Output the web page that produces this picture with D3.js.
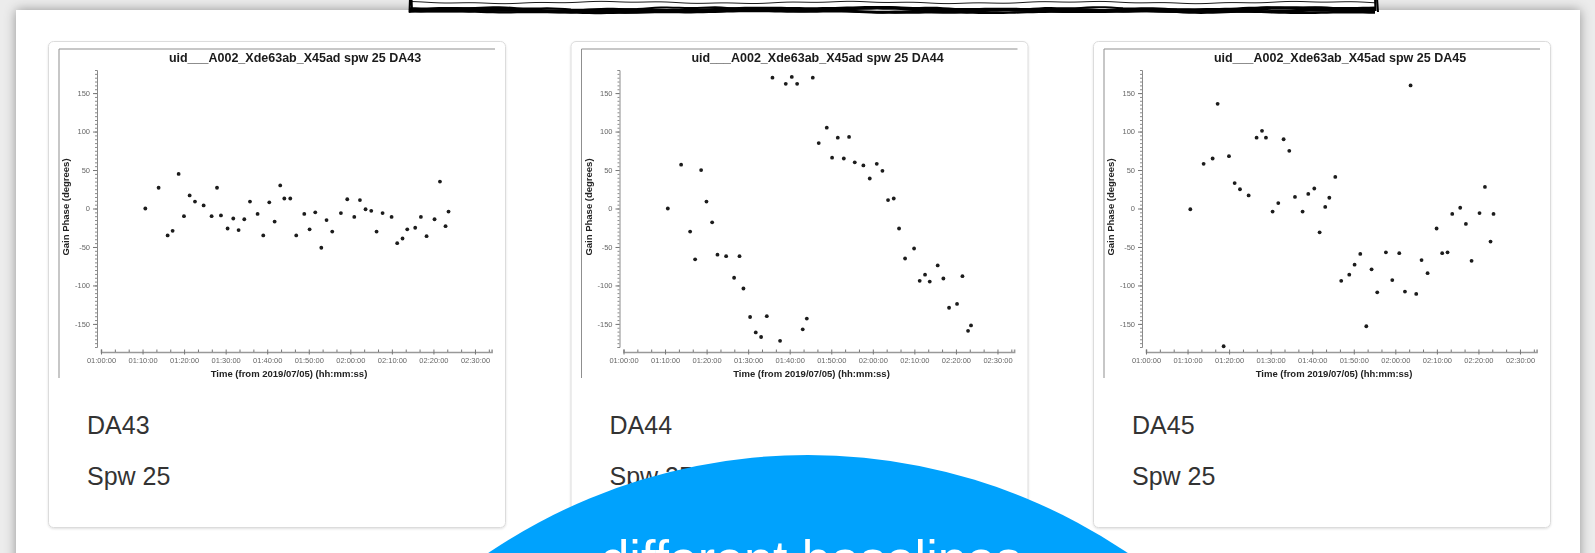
<!DOCTYPE html>
<html>
<head>
<meta charset="utf-8">
<script src="https://cdn.jsdelivr.net/npm/d3@7"></script>
<style>
  html, body { margin: 0; padding: 0; background: #ececec; overflow: hidden; }
  svg { display: block; }
</style>
</head>
<body>
<svg id="page" width="1595" height="553"></svg>
<script>
// ---- data -------------------------------------------------------------
const uid = "uid___A002_Xde63ab_X45ad";
const spw = 25;
const antennas = ["DA43", "DA44", "DA45"];

// solution times (hh:mm:ss, 2019/07/05)
const scanTimes = [
  "01:10:40","01:13:52","01:16:02","01:17:14","01:18:41","01:19:58","01:21:20","01:22:37","01:24:42","01:26:37",
  "01:27:55","01:28:52","01:30:28","01:31:50","01:33:07","01:34:29","01:35:51","01:37:41","01:39:03","01:40:30",
  "01:41:47","01:43:08","01:44:07","01:45:33","01:46:59","01:48:55","01:50:12","01:51:34","01:53:01","01:54:17",
  "01:55:39","01:57:44","01:59:16","02:00:57","02:02:19","02:03:40","02:05:02","02:06:19","02:07:46","02:09:56",
  "02:11:17","02:12:34","02:13:42","02:15:37","02:16:59","02:18:21","02:20:16","02:21:34","02:22:55","02:23:38"
];

// gain phase in degrees, one list per antenna
const phaseDA43 = [0, 27, -35, -29, 45, -10, 17, 9, 4, -10, 27, -9, -26, -13, -28, -14, 9, -7, -35, 8,
  -17, 30, 13, 13, -35, -7, -27, -5, -51, -15, -30, -6, 12, -11, 11, -1, -3, -30, -6, -11,
  -45, -39, -27, -25, -11, -36, -14, 35, -23, -4];
const phaseDA44 = [0, 57, -30, -66, 50, 9, -18, -60, -62, -90, -62, -104, -141, -161, -167, -140, 170, -172, 162, 171,
  162, -157, -143, 170, 85, 105, 66, 92, 65, 93, 60, 56, 39, 58, 49, 11, 13, -26, -65, -52,
  -94, -86, -95, -74, -91, -129, -124, -88, -159, -152];
const phaseDA45 = [-1, 58, 65, 136, -179, 68, 33, 25, 17, 92, 101, 92, -4, 7, 90, 75, 15, -4, 19, 26,
  -31, 2, 14, 41, -94, -86, -73, -59, -153, -79, -109, -57, -93, -58, -108, 160, -111, -67, -84, -26,
  -58, -57, -7, 1, -20, -68, -6, 28, -43, -7];

const phaseTicks = [-150, -100, -50, 0, 50, 100, 150];
const phaseDomain = [-180, 180];
const timeTickLabels = ["01:00:00","01:10:00","01:20:00","01:30:00","01:40:00","01:50:00",
  "02:00:00","02:10:00","02:20:00","02:30:00"];
const timeDomain = ["01:00:00", "02:34:00"];

const calloutText = "different baselines";

// ---- drawing ----------------------------------------------------------
const parseT = d3.timeParse("%H:%M:%S");
const series = [phaseDA43, phaseDA44, phaseDA45];
const FONT = "Liberation Sans, Arial, sans-serif";

const svg = d3.select("#page");
const defs = svg.append("defs");

defs.append("filter").attr("id", "panelShadow")
  .attr("x", "-5%").attr("y", "-10%").attr("width", "110%").attr("height", "130%")
  .append("feDropShadow").attr("dx", 0).attr("dy", 0)
  .attr("stdDeviation", 6).attr("flood-color", "#000").attr("flood-opacity", 0.38);

defs.append("filter").attr("id", "cardShadow")
  .attr("x", "-5%").attr("y", "-5%").attr("width", "110%").attr("height", "110%")
  .append("feDropShadow").attr("dx", 0).attr("dy", 1)
  .attr("stdDeviation", 0.8).attr("flood-color", "#000").attr("flood-opacity", 0.12);

defs.append("filter").attr("id", "soft")
  .append("feGaussianBlur").attr("stdDeviation", 0.7);

// page background and the white panel
svg.append("rect").attr("width", 1595).attr("height", 553).attr("fill", "#ececec");
svg.append("rect").attr("x", 16).attr("y", 10).attr("width", 1564).attr("height", 600)
  .attr("fill", "#fff").attr("filter", "url(#panelShadow)");

// hand-drawn frame peeking in at the top
const sketch = svg.append("g");
sketch.append("rect").attr("x", 409).attr("y", -20).attr("width", 969).attr("height", 32).attr("fill", "#fff");
const wobble = (x0, x1, y, amp, f, ph) => {
  const pts = [];
  for (let x = x0; x <= x1; x += 6) pts.push([x, y + amp * Math.sin(x * f + ph) + amp * 0.5 * Math.sin(x * f * 3.7 + ph * 2)]);
  return d3.line()(pts);
};
[[9.5, 1.2, 0.013, 0, 3.6], [11, 1.0, 0.021, 1.3, 2.8], [8.5, 0.9, 0.031, 2.1, 2.0], [12, 0.7, 0.017, 4.0, 2.2],
 [10.2, 1.4, 0.009, 3.1, 1.4], [2.5, 0.8, 0.027, 0.7, 0.9]]
  .forEach(([y, a, f, ph, w]) => sketch.append("path").attr("d", wobble(409, 1378, y, a, f, ph))
    .attr("fill", "none").attr("stroke", "#000").attr("stroke-width", w));
sketch.append("path").attr("d", "M410,-2 L409.5,12.5 M411.5,-2 L412,11").attr("stroke", "#000").attr("stroke-width", 2).attr("fill", "none");
sketch.append("path").attr("d", "M1377,-2 L1378,12 M1375,-2 L1375.5,11").attr("stroke", "#000").attr("stroke-width", 2).attr("fill", "none");

// one card per antenna
antennas.forEach((ant, i) => {
  const cx = 48 + i * 522.5, cy = 41;
  const card = svg.append("g").attr("transform", `translate(${cx},${cy})`);

  card.append("rect").attr("x", 0.5).attr("y", 0.5).attr("width", 457).attr("height", 486)
    .attr("rx", 5).attr("fill", "#fff").attr("stroke", "#dcdcdc").attr("filter", "url(#cardShadow)");

  const plot = card.append("g").attr("filter", "url(#soft)");

  // image frame edges
  plot.append("line").attr("x1", 11).attr("x2", 447).attr("y1", 8).attr("y2", 8).attr("stroke", "#8f8f8f");
  plot.append("line").attr("x1", 11).attr("x2", 11).attr("y1", 8).attr("y2", 337).attr("stroke", "#8f8f8f");

  const x = d3.scaleTime().domain(timeDomain.map(parseT)).range([53, 443.6]);
  const y = d3.scaleLinear().domain(phaseDomain).range([306, 29]);

  // y axis
  plot.append("g").attr("transform", "translate(49,0)")
    .call(d3.axisLeft(y).tickValues(d3.range(-180, 181, 5)).tickSize(2).tickFormat(""))
    .call(g => g.select(".domain").attr("stroke", "#8a8a8a"))
    .call(g => g.selectAll(".tick line").attr("stroke", "#8a8a8a"));
  plot.append("g").attr("transform", "translate(49,0)")
    .call(d3.axisLeft(y).tickValues(phaseTicks).tickSize(4).tickPadding(3).tickFormat(d => String(d)))
    .call(g => g.select(".domain").remove())
    .call(g => g.selectAll(".tick line").attr("stroke", "#777"))
    .call(g => g.selectAll("text").attr("font-family", FONT).attr("font-size", 7.5).attr("fill", "#666"));

  // x axis
  const majorTicks = timeTickLabels.map(parseT);
  const minorTicks = d3.range(0, 95 * 60, 200).map(s => new Date(majorTicks[0].getTime() + s * 1000))
    .filter(d => d <= x.domain()[1]);
  plot.append("g").attr("transform", "translate(0,311)")
    .call(d3.axisTop(x).tickValues(minorTicks).tickSize(2.5).tickFormat(""))
    .call(g => g.select(".domain").attr("stroke", "#999").attr("stroke-width", 1.6))
    .call(g => g.selectAll(".tick line").attr("stroke", "#777"));
  plot.append("g").attr("transform", "translate(0,311)")
    .call(d3.axisBottom(x).tickValues(majorTicks).tickSize(2.5).tickPadding(3)
      .tickFormat(d3.timeFormat("%H:%M:%S")))
    .call(g => g.select(".domain").remove())
    .call(g => g.selectAll(".tick line").attr("stroke", "#777"))
    .call(g => g.selectAll("text").attr("font-family", FONT).attr("font-size", 7.5).attr("fill", "#666"));

  // titles
  plot.append("text").attr("x", 247).attr("y", 20.5).attr("text-anchor", "middle")
    .attr("font-family", FONT).attr("font-weight", "bold")
    .attr("font-size", 12.5).attr("fill", "#1a1a1a")
    .text(`${uid} spw ${spw} ${ant}`);
  plot.append("text").attr("x", 241).attr("y", 335.5).attr("text-anchor", "middle")
    .attr("font-family", FONT).attr("font-weight", "bold")
    .attr("font-size", 9.5).attr("fill", "#222")
    .text("Time (from 2019/07/05) (hh:mm:ss)");
  plot.append("text").attr("transform", "translate(21,166) rotate(-90)").attr("text-anchor", "middle")
    .attr("font-family", FONT).attr("font-weight", "bold")
    .attr("font-size", 9.5).attr("fill", "#222")
    .text("Gain Phase (degrees)");

  // points
  plot.append("g").selectAll("circle")
    .data(scanTimes.map((t, k) => ({ t: parseT(t), v: series[i][k] })))
    .join("circle")
    .attr("cx", d => x(d.t)).attr("cy", d => y(d.v)).attr("r", 1.9).attr("fill", "#1a1a1a");

  // card caption
  card.append("text").attr("x", 39).attr("y", 393)
    .attr("font-family", FONT).attr("font-size", 25).attr("fill", "#333")
    .text(ant);
  card.append("text").attr("x", 39).attr("y", 444)
    .attr("font-family", FONT).attr("font-size", 25).attr("fill", "#333")
    .text(`Spw ${spw}`);
});

// callout bubble
svg.append("circle").attr("cx", 808).attr("cy", 1026).attr("r", 571).attr("fill", "#00a2fd");
svg.append("text").attr("x", 811).attr("y", 577).attr("text-anchor", "middle")
  .attr("font-family", FONT).attr("font-size", 52).attr("fill", "#fff")
  .text(calloutText);
</script>
</body>
</html>
